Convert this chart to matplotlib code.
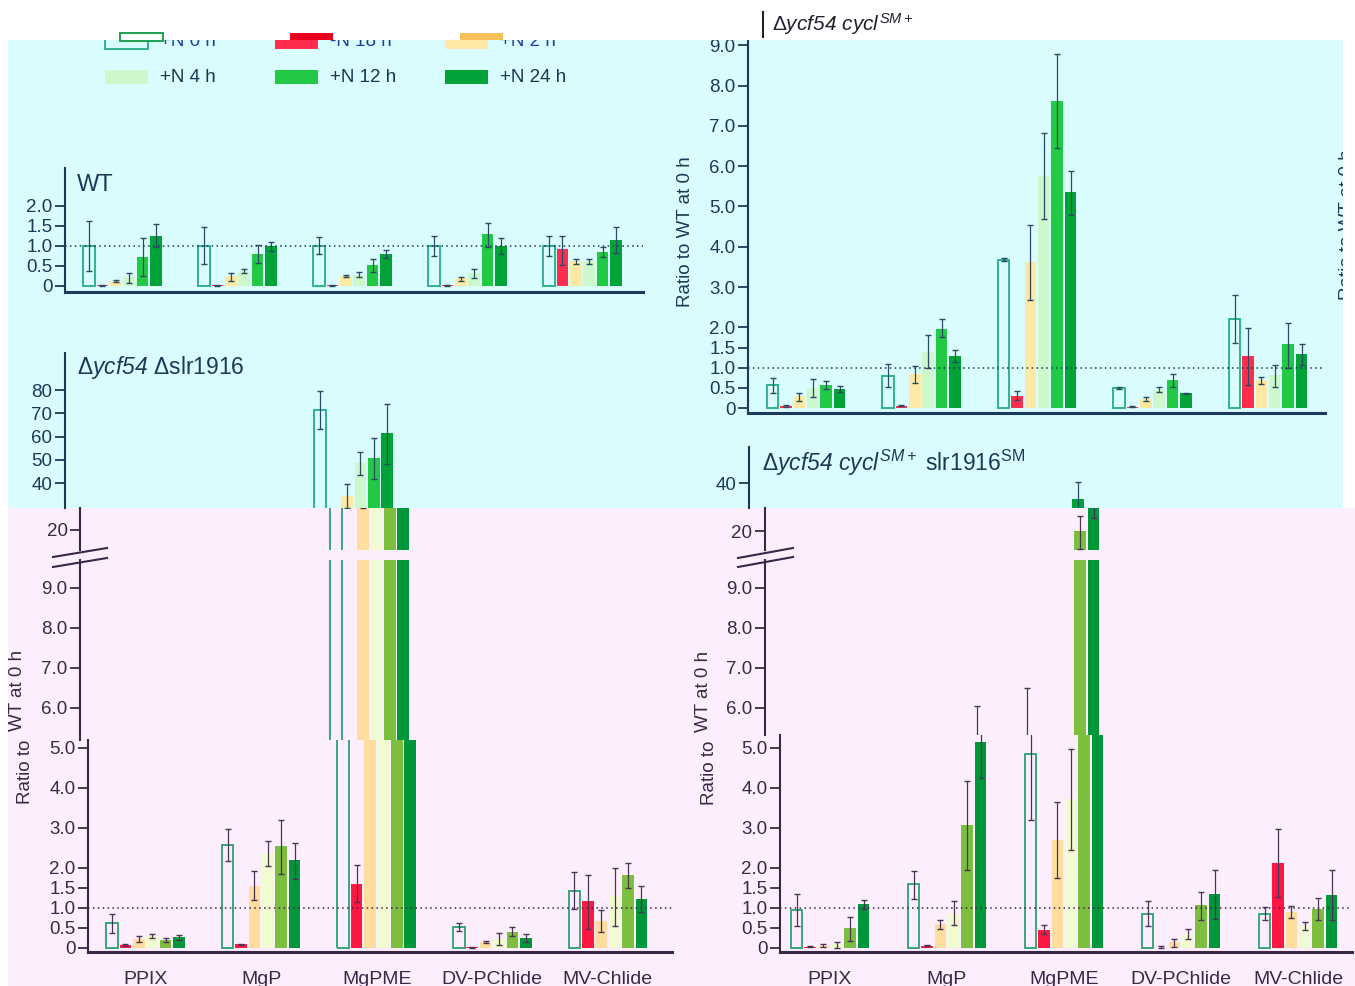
import matplotlib.pyplot as plt
import matplotlib.patches as mp
from matplotlib.lines import Line2D
import numpy as np

W, H = 1355, 986
plt.rcParams['font.family'] = ['Liberation Sans', 'DejaVu Sans']
plt.rcParams['mathtext.fontset'] = 'custom'
plt.rcParams['mathtext.rm'] = 'Liberation Sans:italic'
plt.rcParams['mathtext.it'] = 'Liberation Sans:italic'
plt.rcParams['mathtext.sf'] = 'Liberation Sans'

series = ['+N 0 h', '-N 18 h', '+N 2 h', '+N 4 h', '+N 12 h', '+N 24 h']
pigments = ['PPIX', 'MgP', 'MgPME', 'DV-PChlide', 'MV-Chlide']

# rows = series, columns = pigments
wt_vals = [[1.0, 1.0, 1.0, 1.0, 1.0],
           [0.02, 0.02, 0.02, 0.02, 0.92],
           [0.13, 0.25, 0.25, 0.19, 0.62],
           [0.22, 0.37, 0.28, 0.32, 0.62],
           [0.73, 0.80, 0.53, 1.29, 0.84],
           [1.25, 1.00, 0.81, 1.00, 1.15]]
wt_lo = [[0.38, 0.55, 0.79, 0.76, 0.76],
         [0.01, 0.01, 0.01, 0.01, 0.53],
         [0.11, 0.13, 0.22, 0.13, 0.54],
         [0.08, 0.32, 0.22, 0.19, 0.56],
         [0.26, 0.57, 0.34, 0.97, 0.72],
         [0.97, 0.88, 0.71, 0.79, 0.83]]
wt_hi = [[1.63, 1.47, 1.22, 1.24, 1.24],
         [0.03, 0.03, 0.03, 0.03, 1.24],
         [0.15, 0.33, 0.28, 0.23, 0.68],
         [0.33, 0.42, 0.36, 0.43, 0.68],
         [1.20, 1.03, 0.68, 1.58, 0.97],
         [1.54, 1.10, 0.90, 1.19, 1.47]]

tr_vals = [[0.56, 0.80, 3.68, 0.50, 2.21],
           [0.05, 0.06, 0.31, 0.03, 1.28],
           [0.29, 0.84, 3.62, 0.22, 0.70],
           [0.50, 1.40, 5.76, 0.44, 0.81],
           [0.57, 1.97, 7.62, 0.69, 1.59],
           [0.48, 1.30, 5.36, 0.36, 1.34]]
tr_lo = [[0.37, 0.52, 3.64, 0.47, 1.61],
         [0.03, 0.04, 0.21, 0.02, 0.56],
         [0.18, 0.61, 2.68, 0.17, 0.60],
         [0.28, 1.00, 4.68, 0.40, 0.52],
         [0.47, 1.75, 6.45, 0.52, 1.00],
         [0.40, 1.15, 4.80, 0.35, 1.06]]
tr_hi = [[0.75, 1.09, 3.72, 0.52, 2.80],
         [0.07, 0.08, 0.43, 0.04, 1.98],
         [0.38, 1.03, 4.55, 0.27, 0.78],
         [0.72, 1.81, 6.82, 0.52, 1.07],
         [0.67, 2.20, 8.78, 0.84, 2.12],
         [0.54, 1.44, 5.87, 0.37, 1.60]]

bl_vals = [[0.62, 2.58, 71.5, 0.52, 1.43],
           [0.08, 0.09, 1.61, 0.02, 1.17],
           [0.23, 1.56, 34.6, 0.15, 0.68],
           [0.30, 2.37, 48.8, 0.22, 1.29],
           [0.21, 2.54, 51.0, 0.41, 1.82],
           [0.27, 2.20, 61.4, 0.25, 1.23]]
bl_lo = [[0.38, 2.17, 63.4, 0.43, 0.98],
         [0.06, 0.07, 1.14, 0.01, 0.48],
         [0.16, 1.19, 29.5, 0.13, 0.40],
         [0.26, 2.05, 43.4, 0.08, 0.56],
         [0.16, 1.84, 42.0, 0.30, 1.49],
         [0.19, 1.72, 48.1, 0.15, 0.90]]
bl_hi = [[0.85, 2.98, 79.6, 0.62, 1.89],
         [0.10, 0.11, 2.07, 0.03, 1.83],
         [0.29, 1.92, 39.7, 0.17, 0.95],
         [0.34, 2.67, 53.5, 0.37, 2.00],
         [0.25, 3.20, 59.5, 0.52, 2.13],
         [0.33, 2.62, 74.2, 0.35, 1.54]]

br_vals = [[0.96, 1.59, 4.84, 0.86, 0.85],
           [0.03, 0.06, 0.46, 0.01, 2.13],
           [0.06, 0.60, 2.70, 0.14, 0.90],
           [0.10, 0.86, 3.72, 0.36, 0.56],
           [0.49, 3.07, 19.9, 1.07, 0.98],
           [1.10, 5.16, 33.2, 1.34, 1.33]]
br_lo = [[0.56, 1.23, 3.20, 0.54, 0.71],
         [0.02, 0.04, 0.36, 0.00, 1.28],
         [0.02, 0.48, 1.75, 0.03, 0.75],
         [0.01, 0.57, 2.45, 0.23, 0.46],
         [0.18, 1.96, 12.7, 0.71, 0.71],
         [0.98, 4.26, 25.5, 0.73, 0.69]]
br_hi = [[1.34, 1.92, 6.50, 1.18, 1.02],
         [0.04, 0.08, 0.58, 0.05, 2.98],
         [0.10, 0.71, 3.64, 0.23, 1.06],
         [0.14, 1.17, 4.98, 0.48, 0.65],
         [0.77, 4.17, 26.3, 1.41, 1.26],
         [1.21, 6.05, 40.6, 1.96, 1.96]]

CYAN_BG = '#d9fdfe'
PINK_BG = '#fdeefd'
cyan_pal = {'text': '#1b3a57', 'err': '#2b4a63',
            'bars': ['#2fb58c', '#ff2d4d', '#fde9a3', '#ccf8cc', '#22c944', '#00a337']}
pink_pal = {'text': '#3c2748', 'err': '#4a3355',
            'bars': ['#3aa67c', '#ff1744', '#fedd9e', '#f0fbcf', '#7cbf3f', '#00963a']}

fig = plt.figure(figsize=(W / 100, H / 100), dpi=100)
fig.patch.set_facecolor('white')


def fx(x):
    return x / W


def fy(y):
    return 1 - y / H


def bg(x0, y0, x1, y1, color, z):
    fig.patches.append(mp.Rectangle((fx(x0), fy(y1)), (x1 - x0) / W, (y1 - y0) / H,
                                    transform=fig.transFigure, facecolor=color,
                                    edgecolor='none', zorder=z))


bg(8, 40, 1343, 508, CYAN_BG, -10)
bg(8, 508, W, H, PINK_BG, -10)


def segment(box, c0, gap, ylim, ticks, labels, vals, lo, hi, pal,
            bottom=False, dotted=False, cats=False):
    x0, y0, x1, y1 = box
    ax = fig.add_axes([fx(x0), fy(y1), (x1 - x0) / W, (y1 - y0) / H])
    ax.patch.set_visible(False)
    ax.set_xlim((x0 - c0) / gap, (x1 - c0) / gap)
    ax.set_ylim(*ylim)
    step = 13.4 / gap
    width = 11.5 / gap
    xs = np.arange(len(pigments))
    for k in range(len(series)):
        pos = xs + (k - 2.5) * step
        v = np.array(vals[k])
        l = np.array(lo[k])
        h = np.array(hi[k])
        if k == 0:
            ax.bar(pos, v, width, facecolor='none', edgecolor=pal['bars'][0], linewidth=1.4)
        else:
            ax.bar(pos, v, width, color=pal['bars'][k])
        ax.errorbar(pos, v, yerr=[v - l, h - v], fmt='none', ecolor=pal['err'],
                    elinewidth=0.9, capsize=2.5, capthick=1.0)
    if dotted:
        ax.axhline(1.0, ls=(0, (1, 2.2)), color=pal['text'], lw=1.1)
    for s in ['top', 'right']:
        ax.spines[s].set_visible(False)
    ax.spines['left'].set_color(pal['text'])
    ax.spines['left'].set_linewidth(1.5)
    ax.spines['bottom'].set_visible(bottom)
    ax.spines['bottom'].set_color(pal['text'])
    ax.spines['bottom'].set_linewidth(2.2)
    ax.set_yticks(ticks, labels)
    ax.tick_params(axis='y', colors=pal['text'], labelsize=13.5, length=7, width=1.3, pad=2)
    if cats:
        ax.set_xticks(xs, pigments)
        ax.tick_params(axis='x', length=0, pad=14, labelsize=14, colors=pal['text'])
    else:
        ax.set_xticks([])
    return ax


low_ticks = [0, 0.5, 1, 1.5, 2, 3, 4, 5]
low_labels = ['0', '0.5', '1.0', '1.5', '2.0', '3.0', '4.0', '5.0']
mid_ticks = [6, 7, 8, 9]
mid_labels = ['6.0', '7.0', '8.0', '9.0']

# WT
segment((65, 168, 643, 292), 122.5, 115, (-0.15, 2.95), [0, 0.5, 1, 1.5, 2],
        ['0', '0.5', '1.0', '1.5', '2.0'], wt_vals, wt_lo, wt_hi, cyan_pal,
        bottom=True, dotted=True)

# top right
segment((748, 38, 1325, 413), 806, 115.5, (-0.124, 9.18), low_ticks + mid_ticks,
        low_labels + mid_labels, tr_vals, tr_lo, tr_hi, cyan_pal, bottom=True, dotted=True)

# bottom left, broken axis
segment((65, 353, 650, 508), 122.5, 115.6, (29.4, 95.9), [40, 50, 60, 70, 80],
        ['40', '50', '60', '70', '80'], bl_vals, bl_lo, bl_hi, cyan_pal)
segment((80, 508, 665, 550), 138.5, 115.6, (11.4, 29.4), [20], ['20'],
        bl_vals, bl_lo, bl_hi, pink_pal)
segment((80, 560, 665, 740), 138.5, 115.6, (5.2, 9.7), mid_ticks, mid_labels,
        bl_vals, bl_lo, bl_hi, pink_pal)
segment((88, 740, 672, 952), 145.5, 115.6, (-0.1, 5.2), low_ticks, low_labels,
        bl_vals, bl_lo, bl_hi, pink_pal, bottom=True, dotted=True, cats=True)

# bottom right, broken axis
segment((749, 447, 1340, 508), 810.5, 117, (29.6, 55), [40], ['40'],
        br_vals, br_lo, br_hi, cyan_pal)
segment((765, 508, 1350, 550), 826, 117, (12.1, 29.6), [20], ['20'],
        br_vals, br_lo, br_hi, pink_pal)
segment((765, 560, 1350, 735), 826, 117, (5.325, 9.7), mid_ticks, mid_labels,
        br_vals, br_lo, br_hi, pink_pal)
segment((780, 735, 1352, 952), 830, 117, (-0.1, 5.325), low_ticks, low_labels,
        br_vals, br_lo, br_hi, pink_pal, bottom=True, dotted=True, cats=True)

# axis break marks
for (xa, xb, ya, yb) in [(53, 107, 557, 548), (53, 107, 567, 558),
                         (738, 793, 558, 548), (738, 793, 567, 557)]:
    fig.lines.append(Line2D([fx(xa), fx(xb)], [fy(ya), fy(yb)], transform=fig.transFigure,
                            color=pink_pal['text'], lw=1.5))

# panel titles (rm = italic, sf = upright)
fig.text(fx(77), fy(185), 'WT', fontsize=17, color=cyan_pal['text'], va='center')
fig.text(fx(77), fy(367), r'$\mathsf{Δ}ycf54\ \mathsf{Δslr1916}$', fontsize=16.5,
         color=cyan_pal['text'], va='center')
fig.text(fx(762), fy(463),
         r'$\mathsf{Δ}ycf54\ cycl^{SM+}\ \mathsf{slr1916}^{\mathsf{SM}}$',
         fontsize=16.5, color=cyan_pal['text'], va='center')

# y labels
fig.text(fx(686), fy(232), 'Ratio to WT at 0 h', rotation=90, fontsize=13.5,
         color=cyan_pal['text'], ha='center', va='center')
fig.text(fx(1347), fy(225), 'Ratio to WT at 0 h', rotation=90, fontsize=13.5,
         color=cyan_pal['text'], ha='center', va='center', zorder=-5)
fig.text(fx(17), fy(690), 'WT at 0 h', rotation=90, fontsize=13.5,
         color=pink_pal['text'], ha='center', va='center')
fig.text(fx(25), fy(772), 'Ratio to', rotation=90, fontsize=13.5,
         color=pink_pal['text'], ha='center', va='center')
fig.text(fx(703), fy(691), 'WT at 0 h', rotation=90, fontsize=13.5,
         color=pink_pal['text'], ha='center', va='center')
fig.text(fx(710), fy(773), 'Ratio to', rotation=90, fontsize=13.5,
         color=pink_pal['text'], ha='center', va='center')

# legend
leg_x = [105, 275, 445]
leg_y = [42, 77]
for k, name in enumerate(series):
    row, col = divmod(k, 3)
    x, y = leg_x[col], leg_y[row]
    if k == 0:
        p = mp.Rectangle((fx(x), fy(y + 7)), 43 / W, 14 / H, transform=fig.transFigure,
                         facecolor='none', edgecolor=cyan_pal['bars'][0], lw=1.4)
    else:
        p = mp.Rectangle((fx(x), fy(y + 7)), 43 / W, 14 / H, transform=fig.transFigure,
                         facecolor=cyan_pal['bars'][k], edgecolor='none')
    fig.patches.append(p)
    fig.text(fx(x + 55), fy(y), name, fontsize=13.5, va='center',
             color='#1f3f9f' if row == 0 else '#18384f')

# white strip at top and right (cut-off region)
bg(0, 0, W, 39.5, 'white', 5)
bg(1343, 0, W, 508, 'white', 5)
bg(0, 0, 8, H, 'white', 5)
for x, c in zip(leg_x, ['#20a050', '#e8001c', '#f8c058']):
    if c == '#20a050':
        p = mp.Rectangle((fx(x + 15), fy(41)), 43 / W, 8 / H, transform=fig.transFigure,
                         facecolor='none', edgecolor=c, lw=1.4, zorder=6)
    else:
        p = mp.Rectangle((fx(x + 15), fy(40)), 43 / W, 7 / H, transform=fig.transFigure,
                         facecolor=c, edgecolor='none', zorder=6)
    fig.patches.append(p)

fig.lines.append(Line2D([fx(763), fx(763)], [fy(12), fy(37)], transform=fig.transFigure,
                        color='#202030', lw=1.5, zorder=7))
fig.text(fx(772), fy(24), r'$\mathsf{Δ}ycf54\ cycl^{SM+}$', fontsize=15,
         color='#202030', va='center', zorder=7)

fig.savefig('out.png', dpi=100)
